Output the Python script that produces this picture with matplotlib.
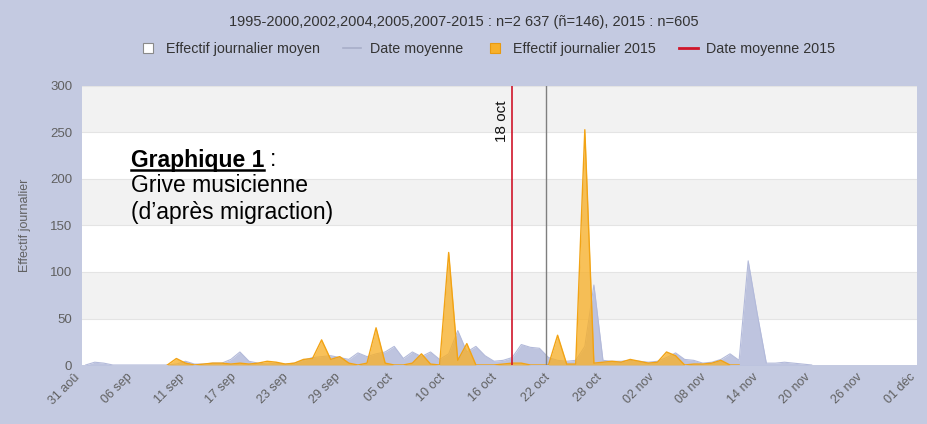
import numpy as np
import matplotlib
matplotlib.use("Agg")
import matplotlib.pyplot as plt
from matplotlib.lines import Line2D
from matplotlib.transforms import ScaledTranslation

plt.rcParams['font.family'] = ['Liberation Sans', 'DejaVu Sans']

# ---------------- data ----------------
title_text = "1995-2000,2002,2004,2005,2007-2015 : n=2 637 (ñ=146), 2015 : n=605"
legend_labels = ["Effectif journalier moyen", "Date moyenne",
                 "Effectif journalier 2015", "Date moyenne 2015"]
tick_labels = ["31 aoû", "06 sep", "11 sep", "17 sep", "23 sep", "29 sep",
               "05 oct", "10 oct", "16 oct", "22 oct", "28 oct", "02 nov",
               "08 nov", "14 nov", "20 nov", "26 nov", "01 déc"]

# days counted from 31 August
mean_days = list(range(0, 81))
mean_values = [0, 3, 2, 0, 0, 0, 0, 0, 0, 0,
               1, 4, 1, 1, 2, 2, 6, 14, 4, 2,
               1, 2, 1, 2, 5, 8, 9, 10, 8, 6,
               13, 9, 12, 14, 20, 7, 14, 9, 14, 6,
               12, 37, 14, 20, 10, 4, 5, 8, 22, 19,
               18, 8, 5, 4, 5, 20, 86, 5, 4, 4,
               5, 4, 3, 4, 8, 13, 6, 5, 2, 3,
               6, 12, 5, 112, 55, 2, 2, 3, 2, 1,
               0]

days_2015 = list(range(9, 73))
values_2015 = [0, 7, 2, 0, 1, 2, 2, 1, 2, 1,
               2, 4, 3, 1, 2, 6, 7, 27, 6, 9,
               2, 0, 2, 40, 2, 0, 0, 2, 12, 1,
               0, 121, 5, 23, 0, 0, 0, 1, 2, 2,
               0, 0, 0, 32, 1, 1, 253, 2, 3, 4,
               3, 6, 4, 2, 3, 14, 10, 0, 1, 1,
               2, 5, 0, 0]

mean_date_all = 50.7     # ~21 oct
mean_date_2015 = 47.0    # "18 oct"
mean_date_2015_label = "18 oct"

# ---------------- figure ----------------
bg = '#c4cae1'
fig = plt.figure(figsize=(9.27, 4.24), dpi=100, facecolor=bg)
ax = fig.add_axes([82/927, 1-365/424, (917-82)/927, (365-86)/424])
ax.set_facecolor('white')

x0, x1 = -0.4, 91.6
ax.set_xlim(x0, x1)
ax.set_ylim(0, 300)

# alternating bands
for lo in (50, 150, 250):
    ax.axhspan(lo, lo + 50, color='#f2f2f2', zorder=0, lw=0)
for yv in range(50, 301, 50):
    ax.axhline(yv, color='#e4e4e4', lw=0.8, zorder=0.5)

# mean series
ax.fill_between(mean_days, mean_values, 0, color='#b3bada', alpha=0.85,
                lw=0, zorder=2)
ax.plot(mean_days, mean_values, color='#b3bada', lw=0.8, zorder=2)

# 2015 series
ax.fill_between(days_2015, values_2015, 0, color='#f7b02a', alpha=0.78,
                lw=0, zorder=3)
ax.plot(days_2015, values_2015, color='#f2a314', lw=1.0, zorder=3.5)

# mean date lines
ax.axvline(mean_date_all, color='#7f7f7f', lw=1.0, zorder=4)
ax.axvline(mean_date_2015, color='#d0152a', lw=1.2, zorder=4)
ax.text(mean_date_2015 - 0.3, 262, mean_date_2015_label, rotation=90,
        ha='right', va='center', fontsize=11, color='#111111', zorder=5)

# axes styling
for s in ax.spines.values():
    s.set_visible(False)
ax.set_yticks(range(0, 301, 50))
ax.tick_params(axis='y', length=0, pad=7, labelsize=9.5, labelcolor='#606060')
ticks = np.linspace(x0, x1, len(tick_labels))
ax.set_xticks(ticks)
ax.set_xticklabels(tick_labels, rotation=45, ha='right', va='center',
                   rotation_mode='anchor', fontsize=9, color='#606060')
ax.tick_params(axis='x', length=0, pad=7.5)
shift = ScaledTranslation(-4/100, 0, fig.dpi_scale_trans)
for lbl in ax.get_xticklabels():
    lbl.set_transform(lbl.get_transform() + shift)
ax.set_ylabel("Effectif journalier", fontsize=9, color='#606060', labelpad=14)

# title
fig.text(0.5, 1-22/424, title_text, ha='center', va='center',
         fontsize=10.5, color='#333333')

# legend
handles = [
    Line2D([], [], marker='s', linestyle='none', markersize=7,
           markerfacecolor='white', markeredgecolor='#8a8a8a', markeredgewidth=0.8),
    Line2D([], [], color='#a8aec8', lw=1.2),
    Line2D([], [], marker='s', linestyle='none', markersize=7,
           markerfacecolor='#f7b02a', markeredgecolor='#e89a10', markeredgewidth=0.8),
    Line2D([], [], color='#d0152a', lw=2),
]
fig.legend(handles, legend_labels, loc='center', bbox_to_anchor=(487/927, 1-49/424),
           ncol=4, frameon=False, fontsize=10.3, handlelength=1.3,
           handletextpad=0.6, columnspacing=1.6, labelcolor='#333333')

# annotation text
fx = 131/927
fs = 16.5
t1 = fig.text(fx, 1-160/424, "Graphique 1", fontsize=fs, fontweight='bold',
              ha='left', va='center', color='black')
fig.canvas.draw()
r = fig.canvas.get_renderer()
bb = t1.get_window_extent(renderer=r)
W, H = fig.bbox.width, fig.bbox.height
fig.text(bb.x1 / W + 6/927, 1-160/424, ":", fontsize=fs, ha='left',
         va='center', color='black')
uy = (bb.y0 + 1.5) / H
fig.add_artist(Line2D([bb.x0 / W, bb.x1 / W], [uy, uy], color='black',
                      lw=1.8, transform=fig.transFigure))
fig.text(fx, 1-186/424, "Grive musicienne", fontsize=fs, ha='left',
         va='center', color='black')
fig.text(fx, 1-213/424, "(d\u2019après migraction)", fontsize=fs, ha='left',
         va='center', color='black')

fig.savefig("out.png", dpi=100, facecolor=bg)
